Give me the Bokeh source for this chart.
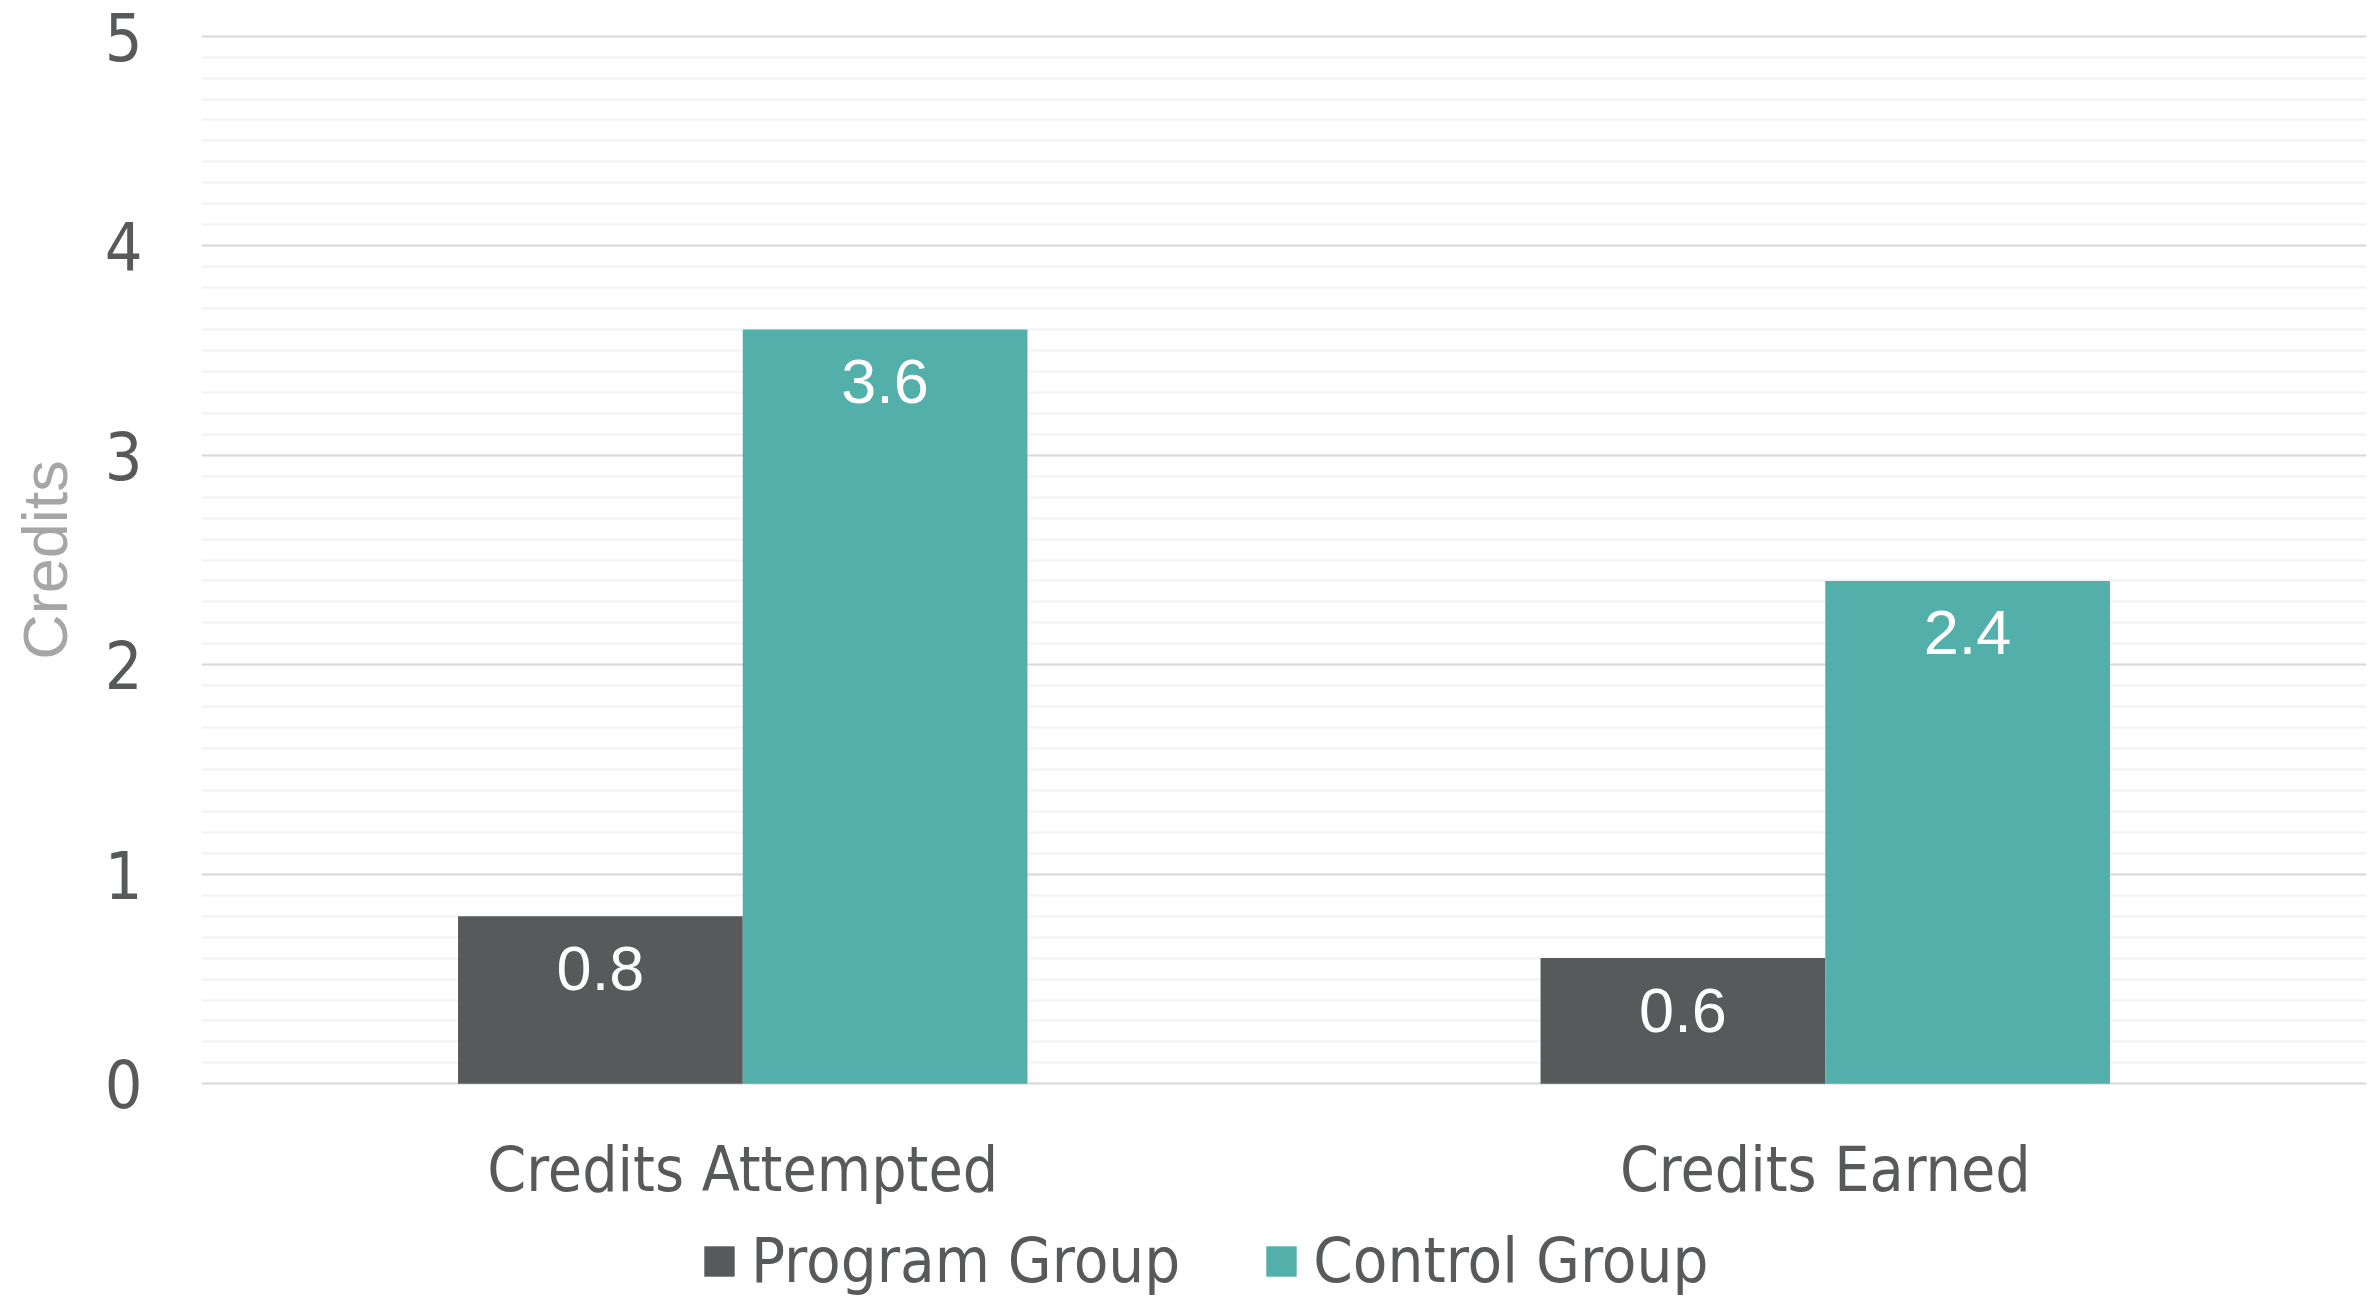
from bokeh.plotting import figure
from bokeh.layouts import column
from bokeh.models import (ColumnDataSource, FactorRange, Range1d, SingleIntervalTicker,
                          Legend, LegendItem)
from bokeh.transform import dodge
from bokeh.embed import file_html
from bokeh.resources import INLINE
from bokeh.core.properties import value

# ---- data ----
categories = ["Credits Attempted", "Credits Earned"]
series = ["Program Group", "Control Group"]
program = [0.8, 0.6]
control = [3.6, 2.4]
y_max = 5

PROG_COLOR = "#58595B"
CTRL_COLOR = "#52AFAA"
TEXT_COLOR = "#58595B"
CAT_FONT = "DejaVu Sans Condensed"
NUM_FONT = "Liberation Sans"

src = ColumnDataSource(dict(
    cat=categories,
    program=program,
    control=control,
    program_lbl=[f"{v:.1f}" for v in program],
    control_lbl=[f"{v:.1f}" for v in control],
))

MAIN_H = 1210
LEG_H = 1297 - MAIN_H

p = figure(
    x_range=FactorRange(factors=categories, range_padding=0),
    y_range=Range1d(-0.008, y_max + 0.008),
    width=2371, height=MAIN_H,
    output_backend="svg", toolbar_location=None,
    min_border_left=201, min_border_right=5,
    min_border_top=34, min_border_bottom=MAIN_H - 34 - 1051,
)
p.outline_line_color = None
p.background_fill_color = "white"
p.border_fill_color = "white"

bw = 0.263
off = bw / 2
p.vbar(x=dodge("cat", -off, range=p.x_range), top="program", bottom=0, width=bw,
       source=src, fill_color=PROG_COLOR, line_color=None)
p.vbar(x=dodge("cat", off, range=p.x_range), top="control", bottom=0, width=bw,
       source=src, fill_color=CTRL_COLOR, line_color=None)

p.text(x=dodge("cat", -off, range=p.x_range), y="program", text="program_lbl",
       source=src, text_color="white", text_font=value(NUM_FONT),
       text_font_size="63px", text_align="center", text_baseline="middle",
       y_offset=52)
p.text(x=dodge("cat", off, range=p.x_range), y="control", text="control_lbl",
       source=src, text_color="white", text_font=value(NUM_FONT),
       text_font_size="63px", text_align="center", text_baseline="middle",
       y_offset=52)

# grid
p.xgrid.grid_line_color = None
p.ygrid.grid_line_color = "#D9D9D9"
p.ygrid.grid_line_width = 2
p.ygrid.minor_grid_line_color = "#F2F2F2"
p.ygrid.minor_grid_line_width = 2

# y axis
p.yaxis.ticker = SingleIntervalTicker(interval=1, num_minor_ticks=10)
p.yaxis.axis_line_color = None
p.yaxis.major_tick_line_color = None
p.yaxis.minor_tick_line_color = None
p.yaxis.major_tick_out = 0
p.yaxis.major_tick_in = 0
p.yaxis.minor_tick_out = 0
p.yaxis.minor_tick_in = 0
p.yaxis.major_label_text_font = CAT_FONT
p.yaxis.major_label_text_font_size = "66px"
p.yaxis.major_label_text_color = TEXT_COLOR
p.yaxis.major_label_standoff = 59
p.yaxis.axis_label = "Credits"
p.yaxis.axis_label_text_font = NUM_FONT
p.yaxis.axis_label_text_font_size = "63px"
p.yaxis.axis_label_text_font_style = "normal"
p.yaxis.axis_label_text_color = "#A6A6A6"
p.yaxis.axis_label_standoff = 22

# x axis
p.xaxis.axis_line_color = None
p.xaxis.major_tick_line_color = None
p.xaxis.major_tick_out = 0
p.xaxis.major_tick_in = 0
p.xaxis.major_label_text_font = CAT_FONT
p.xaxis.major_label_text_font_size = "62px"
p.xaxis.major_label_text_color = TEXT_COLOR
p.xaxis.major_label_standoff = 47

# ---- legend strip below the chart ----
pl = figure(width=2371, height=LEG_H, x_range=Range1d(0, 1), y_range=Range1d(0, 1),
            output_backend="svg", toolbar_location=None,
            x_axis_location=None, y_axis_location=None, min_border=0)
pl.outline_line_color = None
pl.grid.visible = False
# hidden proxy renderers carrying the series colours for the legend swatches
lr1 = pl.vbar(x=[0], top=[program[0]], width=0.1, fill_color=PROG_COLOR,
              line_color=None, visible=False)
lr2 = pl.vbar(x=[0], top=[control[0]], width=0.1, fill_color=CTRL_COLOR,
              line_color=None, visible=False)

legend = Legend(
    items=[LegendItem(label=series[0], renderers=[lr1]),
           LegendItem(label=series[1], renderers=[lr2])],
    orientation="horizontal", location=(499, 0),
    label_text_font=CAT_FONT, label_text_font_size="63px",
    label_text_color=TEXT_COLOR, label_standoff=13, spacing=82,
    glyph_width=38, glyph_height=38, padding=0, margin=0,
    border_line_color=None, background_fill_alpha=0,
    inactive_fill_alpha=0,
)
pl.add_layout(legend, "center")

layout = column(p, pl, spacing=0)
open("out.html", "w").write(file_html(layout, INLINE))
